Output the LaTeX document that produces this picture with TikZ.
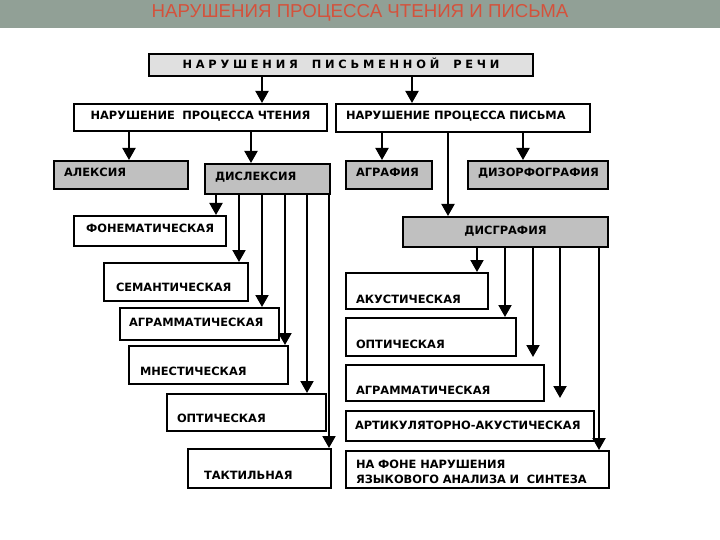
\documentclass[tikz,border=0pt]{standalone}
\usepackage{fontspec}
\setmainfont{DejaVu Sans}
\newfontfamily\titlefont{Liberation Sans}
\usetikzlibrary{arrows.meta}

\definecolor{barcol}{RGB}{145,160,150}
\definecolor{titlered}{RGB}{212,82,60}
\definecolor{boxgrey}{RGB}{192,192,192}
\definecolor{topgrey}{RGB}{224,224,224}

\newcommand{\boxfont}{\fontsize{11.4pt}{15pt}\selectfont\bfseries}

\begin{document}
\begin{tikzpicture}[x=1pt, y=-1pt,
    pbox/.style={draw, line width=2pt, anchor=north west, inner ysep=0pt, align=left, font=\boxfont},
    gbox/.style={pbox, fill=boxgrey},
    arrow/.style={-{Triangle[length=12pt,width=13pt]}, line width=2pt}
]
\useasboundingbox (0,0) rectangle (720,540);
\fill[barcol] (0,0) rectangle (720,28);
\node[text=titlered, anchor=base, font=\titlefont\fontsize{18.7pt}{20pt}\selectfont] (title) at (360,18) {НАРУШЕНИЯ ПРОЦЕССА ЧТЕНИЯ И ПИСЬМА};

% top levels
\node[pbox, fill=topgrey, align=center, inner xsep=4pt, text width=376pt, text height=15pt, text depth=7pt] (root) at (148,53)
    {\addfontfeature{LetterSpace=33}НАРУШЕНИЯ\hspace{14pt}ПИСЬМЕННОЙ\hspace{14pt}РЕЧИ};
\node[pbox, align=center, inner xsep=4pt, text width=245pt, text height=16pt, text depth=11pt] (read) at (73,103) {НАРУШЕНИЕ\ \ ПРОЦЕССА ЧТЕНИЯ};
\node[pbox, inner xsep=10pt, text width=234pt, text height=16pt, text depth=12pt] (write) at (335,103) {НАРУШЕНИЕ ПРОЦЕССА ПИСЬМА};

\node[gbox, inner xsep=10pt, text width=114pt, text height=16pt, text depth=12pt] (alex) at (53,160) {АЛЕКСИЯ};
\node[gbox, inner xsep=10pt, text width=105pt, text height=17pt, text depth=13pt] (dys) at (204,163) {ДИСЛЕКСИЯ};
\node[gbox, inner xsep=10pt, text width=66pt, text height=16pt, text depth=12pt] (agr) at (345,160) {АГРАФИЯ};
\node[gbox, inner xsep=10pt, text width=120pt, text height=16pt, text depth=12pt] (dysorth) at (467,160) {ДИЗОРФОГРАФИЯ};
\node[gbox, align=center, inner xsep=4pt, text width=197pt, text height=17pt, text depth=13pt] (dysgr) at (402,216) {ДИСГРАФИЯ};

% forms of dyslexia
\node[pbox, inner xsep=12pt, text width=128pt, text height=17pt, text depth=13pt] (fon) at (73,215) {ФОНЕМАТИЧЕСКАЯ};
\node[pbox, inner xsep=12pt, text width=120pt, text height=28pt, text depth=10pt] (sem) at (103,262) {СЕМАНТИЧЕСКАЯ};
\node[pbox, inner xsep=9pt, text width=141pt, text height=18pt, text depth=14pt] (agram) at (119,307) {АГРАММАТИЧЕСКАЯ};
\node[pbox, inner xsep=11pt, text width=137pt, text height=29pt, text depth=9pt] (mnes) at (128,345) {МНЕСТИЧЕСКАЯ};
\node[pbox, inner xsep=10pt, text width=139pt, text height=28pt, text depth=9pt] (opt) at (166,393) {ОПТИЧЕСКАЯ};
\node[pbox, inner xsep=16pt, text width=111pt, text height=30pt, text depth=9pt] (takt) at (187,448) {ТАКТИЛЬНАЯ};

% forms of dysgraphia
\node[pbox, inner xsep=10pt, text width=122pt, text height=30pt, text depth=6pt] (acou) at (345,272) {АКУСТИЧЕСКАЯ};
\node[pbox, inner xsep=10pt, text width=150pt, text height=30pt, text depth=8pt] (optw) at (345,317) {ОПТИЧЕСКАЯ};
\node[pbox, inner xsep=10pt, text width=178pt, text height=29pt, text depth=7pt] (agrw) at (345,364) {АГРАММАТИЧЕСКАЯ};
\node[pbox, inner xsep=9pt, text width=230pt, text height=18pt, text depth=12pt] (artic) at (345,410) {АРТИКУЛЯТОРНО-АКУСТИЧЕСКАЯ};
\node[pbox, inner xsep=10pt, text width=243pt, text height=17pt, text depth=20pt] (fone) at (345,450) {НА ФОНЕ НАРУШЕНИЯ\\ЯЗЫКОВОГО АНАЛИЗА И\ \ СИНТЕЗА};

\draw[arrow] ([xshift=114pt]root.south west) -- ([xshift=189pt]read.north west);
\draw[arrow] ([xshift=264pt]root.south west) -- ([xshift=77pt]write.north west);
\draw[arrow] ([xshift=56pt]read.south west) -- ([xshift=76pt]alex.north west);
\draw[arrow] ([xshift=178pt]read.south west) -- ([xshift=47pt]dys.north west);
\draw[arrow] ([xshift=47pt]write.south west) -- ([xshift=37pt]agr.north west);
\draw[arrow] ([xshift=188pt]write.south west) -- ([xshift=56pt]dysorth.north west);
\draw[arrow] ([xshift=113pt]write.south west) -- ([xshift=46pt]dysgr.north west);

\draw[arrow] ([xshift=12pt]dys.south west) -- ([xshift=143pt]fon.north west);
\draw[arrow] ([xshift=35pt]dys.south west) -- ([xshift=136pt]sem.north west);
\draw[arrow] ([xshift=58pt]dys.south west) -- ([xshift=143pt]agram.north west);
\draw[arrow] ([xshift=81pt]dys.south west) -- ([xshift=157pt]mnes.north west);
\draw[arrow] ([xshift=103pt]dys.south west) -- ([xshift=141pt]opt.north west);
\draw[arrow] ([xshift=125pt]dys.south west) -- ([xshift=142pt]takt.north west);

\draw[arrow] ([xshift=75pt]dysgr.south west) -- ([xshift=132pt]acou.north west);
\draw[arrow] ([xshift=103pt]dysgr.south west) -- ([xshift=160pt]optw.north west);
\draw[arrow, shorten >=7pt] ([xshift=131pt]dysgr.south west) -- ([xshift=188pt]agrw.north west);
\draw[arrow, shorten >=12pt] ([xshift=158pt]dysgr.south west) -- ([xshift=215pt]artic.north west);
\draw[arrow] ([xshift=197pt]dysgr.south west) -- ([xshift=254pt]fone.north west);
\end{tikzpicture}
\end{document}
